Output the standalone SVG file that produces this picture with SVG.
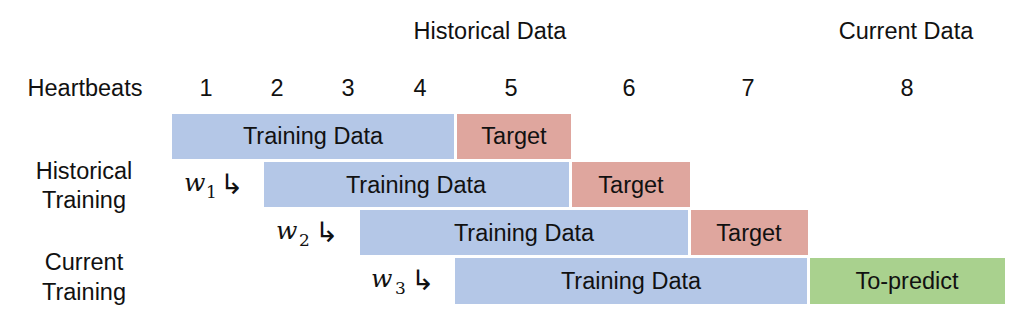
<svg xmlns="http://www.w3.org/2000/svg" width="1028" height="330" viewBox="0 0 1028 330">
<style>
text{font-family:"Liberation Sans","Noto Sans",sans-serif;font-size:23.5px;fill:#111;text-anchor:middle}
.td{fill:#B4C7E7}
.tg{fill:#DFA69E}
.tp{fill:#A9D18E}
.w{font-family:"DejaVu Serif","Liberation Serif",serif;font-style:italic;font-size:25px;text-anchor:start}
.sub{font-family:"DejaVu Serif","Liberation Serif",serif;font-size:17px;text-anchor:start}
.arr{font-family:"DejaVu Sans",sans-serif;font-size:28px;text-anchor:start}
</style>
<rect width="1028" height="330" fill="#fff"/>
<g id="header">
<text x="490" y="39">Historical Data</text>
<text x="906" y="39">Current Data</text>
<text x="85" y="96">Heartbeats</text>
<text x="206" y="96">1</text>
<text x="277" y="96">2</text>
<text x="348" y="96">3</text>
<text x="420" y="96">4</text>
<text x="511" y="96">5</text>
<text x="629" y="96">6</text>
<text x="748" y="96">7</text>
<text x="907" y="96">8</text>
</g>
<g id="labels">
<text x="84" y="179">Historical</text>
<text x="84" y="208">Training</text>
<text x="84" y="270">Current</text>
<text x="84" y="300">Training</text>
</g>
<g id="row1">
<rect class="td" x="172" y="114" width="282" height="45"/>
<text x="313" y="144">Training Data</text>
<rect class="tg" x="457" y="114" width="114" height="45"/>
<text x="514" y="144">Target</text>
</g>
<g id="row2">
<text class="w" x="184" y="191">w</text><text class="sub" x="206" y="198">1</text><text class="arr" x="220" y="194">↳</text>
<rect class="td" x="264" y="162" width="305" height="45"/>
<text x="416" y="193">Training Data</text>
<rect class="tg" x="572" y="162" width="118" height="45"/>
<text x="631" y="193">Target</text>
</g>
<g id="row3">
<text class="w" x="276" y="239">w</text><text class="sub" x="299" y="246">2</text><text class="arr" x="315" y="242">↳</text>
<rect class="td" x="360" y="210" width="328" height="45"/>
<text x="524" y="241">Training Data</text>
<rect class="tg" x="691" y="210" width="117" height="45"/>
<text x="749" y="241">Target</text>
</g>
<g id="row4">
<text class="w" x="371" y="287">w</text><text class="sub" x="395" y="294">3</text><text class="arr" x="411" y="290">↳</text>
<rect class="td" x="455" y="258" width="352" height="46"/>
<text x="631" y="289">Training Data</text>
<rect class="tp" x="810" y="258" width="195" height="46"/>
<text x="907" y="289">To-predict</text>
</g>
<g id="connectors"></g>
</svg>
